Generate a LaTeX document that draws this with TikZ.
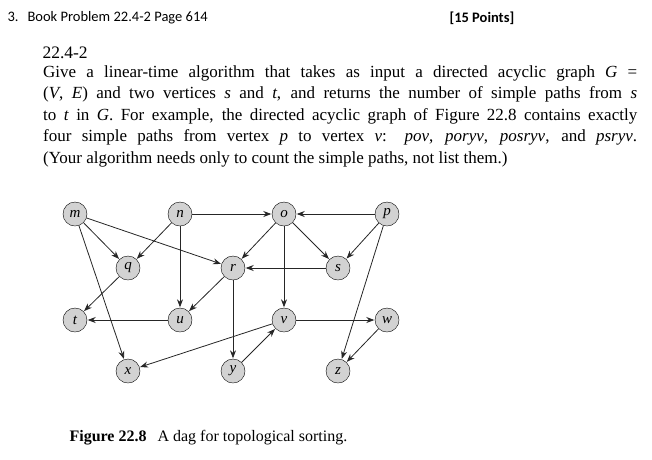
\documentclass[tikz,border=0pt]{standalone}
\usepackage{fontspec}
\setmainfont{Liberation Serif}
\newfontfamily\hdr{Carlito}
\usetikzlibrary{arrows.meta}
\newcommand{\vv}[1]{\textit{#1}}
\begin{document}
\begin{tikzpicture}[x=1pt,y=-1pt,
  vtx/.style={circle,draw=black,fill=gray!35,minimum size=24pt,inner sep=0pt,font=\fontsize{15}{15}\selectfont\itshape},
  edge/.style={draw=black!85,line width=0.8pt,-{Stealth[length=8pt,width=6pt]},shorten >=0.5pt}]
\useasboundingbox (0,0) rectangle (652,459);
\node[anchor=west,font=\hdr\fontsize{14.5}{16}\selectfont] (hd) at (4,18) {3.\hspace{9pt}Book Problem 22.4-2 Page 614};
\node[anchor=west,font=\hdr\bfseries\fontsize{14.5}{16}\selectfont] (pts) at (446,18) {[15 Points]};
\node[anchor=west,font=\fontsize{17.5}{19}\selectfont] (ttl) at (39,53) {22.4-2};
\node[anchor=north west,text width=594pt,align=justify,inner sep=0pt,font=\fontsize{17}{21.5}\selectfont] (par) at (43,65)
{Give a linear-time algorithm that takes as input a directed acyclic graph \vv{G}~=\linebreak
(\vv{V},~\vv{E}) and two vertices \vv{s} and \vv{t}, and returns the number of simple paths from \vv{s}\linebreak
to \vv{t} in \vv{G}. For example, the directed acyclic graph of Figure 22.8 contains exactly\linebreak
four simple paths from vertex \vv{p} to vertex \vv{v}: \vv{pov}, \vv{poryv}, \vv{posryv}, and \vv{psryv}.\linebreak
(Your algorithm needs only to count the simple paths, not list them.)};
\node[vtx] (m) at (75,214) {m};
\node[vtx] (n) at (180,214) {n};
\node[vtx] (o) at (284,214) {o};
\node[vtx] (p) at (387,214) {p};
\node[vtx] (q) at (128,268) {q};
\node[vtx] (r) at (233,268) {r};
\node[vtx] (s) at (338,268) {s};
\node[vtx] (t) at (75,320) {t};
\node[vtx] (u) at (180,320) {u};
\node[vtx] (v) at (284,320) {v};
\node[vtx] (w) at (387,320) {w};
\node[vtx] (x) at (128,371) {x};
\node[vtx] (y) at (233,371) {y};
\node[vtx] (z) at (338,371) {z};
\foreach \a/\b in {m/q,m/r,m/x,n/q,n/u,n/o,o/r,o/v,o/s,p/o,p/s,p/z,q/t,r/u,r/y,s/r,u/t,v/w,v/x,y/v,w/z}
  \draw[edge] (\a) -- (\b);
\node[anchor=west,font=\fontsize{16}{18}\selectfont] (cap) at (66,438) {\textbf{Figure 22.8}\hspace{11pt}A dag for topological sorting.};
\end{tikzpicture}
\end{document}
